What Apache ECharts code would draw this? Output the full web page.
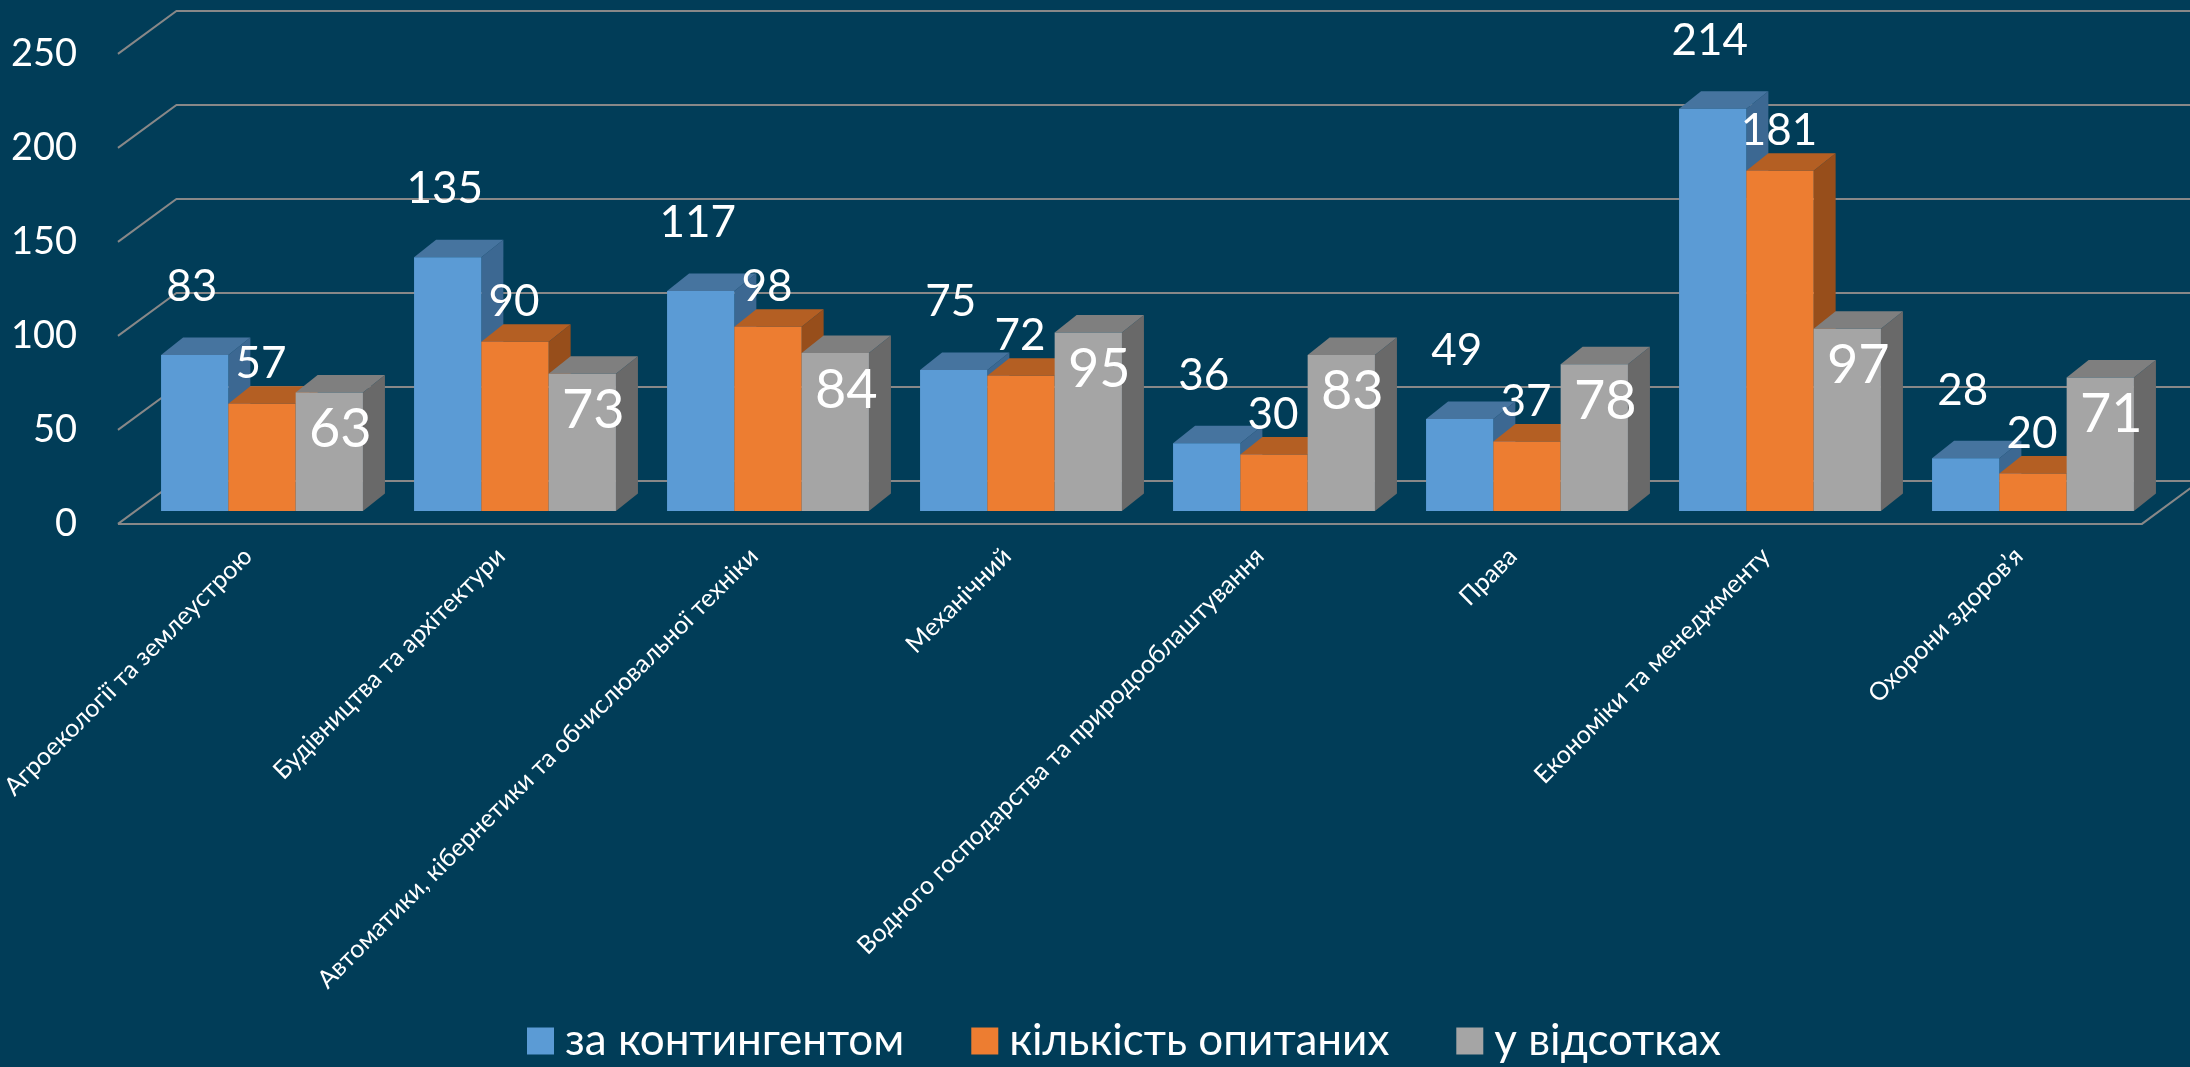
<!DOCTYPE html>
<html>
<head>
<meta charset="utf-8">
<script src="https://cdn.jsdelivr.net/npm/echarts@6/dist/echarts.min.js"></script>
<style>
html,body{margin:0;padding:0;background:#013d58;}
#c{width:2190px;height:1067px;}
</style>
</head>
<body>
<div id="c"></div>
<script>
// ---- data ----
const categories = [
  'Агроекології та землеустрою',
  'Будівництва та архітектури',
  'Автоматики, кібернетики та обчислювальної техніки',
  'Механічний',
  'Водного господарства та природооблаштування',
  'Права',
  'Економіки та менеджменту',
  'Охорони здоров’я'
];
const seriesNames = ['за контингентом', 'кількість опитаних', 'у відсотках'];
const contingent = [83, 135, 117, 75, 36, 49, 214, 28];
const surveyed   = [57, 90, 98, 72, 30, 37, 181, 20];
const percent    = [63, 73, 84, 95, 83, 78, 97, 71];
const yTicks = [0, 50, 100, 150, 200, 250];

// ---- styles ----
const FONT = 'Lato, "Noto Sans", sans-serif';
const BAR_DEPTH = [22, -17.5];
const WALL_DEPTH = [58.5, -43];
const FRONT_FRAC = 0.3;           // bars stand 30% into the floor depth
const BAR_RATIO = 0.266;          // bar width / category band
const palettes = [
  {front: '#5b9bd5', top: '#46749f', side: '#3c6892', label: {dx: -3, dy: -68, size: 44}},
  {front: '#ed7d31', top: '#b45f23', side: '#974e1b', label: {dx: -1, dy: -40, size: 44}},
  {front: '#a5a5a5', top: '#7f7f7f', side: '#696969', label: {dx: 11, dy: 37, size: 54}}
];

function barRenderer(si) {
  const pal = palettes[si];
  return function (params, api) {
    const cat = api.value(0), v = api.value(1);
    const top = api.coord([cat, v]);
    const base = api.coord([cat, 0]);
    const band = api.size([1, 0])[0];
    const bw = band * BAR_RATIO;
    const x0 = top[0] - 1.5 * bw + si * bw;
    const x1 = x0 + bw;
    const yT = top[1], yB = base[1];
    const dx = BAR_DEPTH[0], dy = BAR_DEPTH[1];
    return {
      type: 'group',
      children: [
        {type: 'polygon', shape: {points: [[x1, yT], [x1 + dx, yT + dy], [x1 + dx, yB + dy], [x1, yB]]},
         style: {fill: pal.side}},
        {type: 'polygon', shape: {points: [[x0, yT], [x0 + dx, yT + dy], [x1 + dx, yT + dy], [x1, yT]]},
         style: {fill: pal.top}},
        {type: 'rect', shape: {x: x0, y: yT, width: bw, height: yB - yT},
         style: {fill: pal.front}},
        {type: 'text', z2: 100,
         style: {text: String(v), x: (x0 + x1) / 2 + pal.label.dx, y: yT + pal.label.dy,
                 fill: '#ffffff', fontSize: pal.label.size, fontFamily: FONT,
                 align: 'center', verticalAlign: 'middle'}}
      ]
    };
  };
}

function wallRenderer(params, api) {
  const cs = params.coordSys;
  const v = api.value(1);
  const y = api.coord([0, v])[1];
  const fL = [cs.x - WALL_DEPTH[0] * FRONT_FRAC, y - WALL_DEPTH[1] * FRONT_FRAC];
  const bL = [fL[0] + WALL_DEPTH[0], fL[1] + WALL_DEPTH[1]];
  const fR = [cs.x + cs.width - WALL_DEPTH[0] * FRONT_FRAC, fL[1]];
  const bR = [fR[0] + WALL_DEPTH[0], bL[1]];
  const lineStyle = {stroke: '#888888', lineWidth: 2, fill: null};
  const children = [
    {type: 'polyline', shape: {points: [fL, bL, [bR[0] + 40, bL[1]]]}, style: lineStyle}
  ];
  if (v === 0) {
    children.push({type: 'polyline', shape: {points: [fL, fR, bR]}, style: lineStyle});
  }
  return {type: 'group', children: children};
}

const chart = echarts.init(document.getElementById('c'));
chart.setOption({
  backgroundColor: '#013d58',
  animation: false,
  grid: [
    {left: 135.5, right: 30.5, top: 41, bottom: 556, containLabel: false, outerBoundsMode: 'none'},
    // front edge of the floor/walls: carries the value labels
    {left: 118, right: 48, top: 54, bottom: 543, containLabel: false, outerBoundsMode: 'none'}
  ],
  legend: {
    data: seriesNames,
    left: 527, top: 1019,
    padding: 0,
    icon: 'rect',
    itemWidth: 27, itemHeight: 27, itemGap: 67,
    textStyle: {color: '#ffffff', fontSize: 44, fontFamily: FONT, padding: [0, 0, 0, 6]}
  },
  xAxis: [
    {
      type: 'category', gridIndex: 0,
      data: categories,
      axisLine: {show: false},
      axisTick: {show: false},
      axisLabel: {rotate: 45, interval: 0, margin: 27, padding: [0, 20, 0, 0],
                  color: '#ffffff', fontSize: 25, fontFamily: FONT}
    },
    {type: 'category', gridIndex: 1, data: categories, show: false}
  ],
  yAxis: [
    {
      type: 'value', gridIndex: 0,
      min: 0, max: 250, interval: 50,
      splitLine: {show: false},
      axisLine: {show: false},
      axisTick: {show: false},
      axisLabel: {show: false}
    },
    {
      type: 'value', gridIndex: 1,
      min: 0, max: 250, interval: 50,
      splitLine: {show: false},
      axisLine: {show: false},
      axisTick: {show: false},
      axisLabel: {color: '#ffffff', fontSize: 38, fontFamily: FONT, margin: 41}
    }
  ],
  series: [
    {type: 'custom', name: '_walls', z: 1, silent: true,
     data: yTicks.map(function (t) { return [0, t]; }),
     encode: {x: 0, y: 1}, renderItem: wallRenderer},
    {type: 'custom', name: seriesNames[0], z: 2, itemStyle: {color: palettes[0].front},
     data: contingent.map(function (v, i) { return [i, v]; }),
     encode: {x: 0, y: 1}, renderItem: barRenderer(0)},
    {type: 'custom', name: seriesNames[1], z: 2, itemStyle: {color: palettes[1].front},
     data: surveyed.map(function (v, i) { return [i, v]; }),
     encode: {x: 0, y: 1}, renderItem: barRenderer(1)},
    {type: 'custom', name: seriesNames[2], z: 2, itemStyle: {color: palettes[2].front},
     data: percent.map(function (v, i) { return [i, v]; }),
     encode: {x: 0, y: 1}, renderItem: barRenderer(2)}
  ]
});
</script>
</body>
</html>
